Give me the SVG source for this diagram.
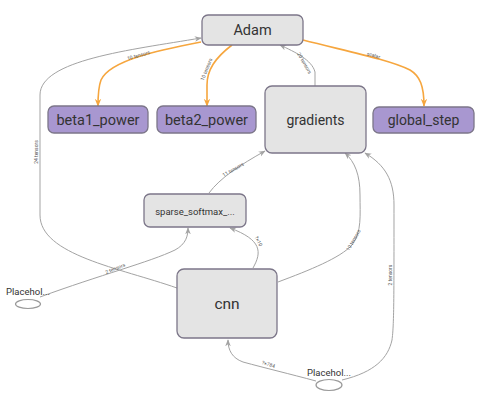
<svg xmlns="http://www.w3.org/2000/svg" width="486" height="405" viewBox="0 0 486 405">
<style>
.n{fill:#e4e4e4;stroke:#7c7689;stroke-width:1.3}
.p{fill:#a897d0;stroke:#7c7689;stroke-width:1.3}
.t{font-family:Roboto,"Liberation Sans",sans-serif;fill:#333;text-anchor:middle}
.e{fill:none;stroke:#a3a3a3;stroke-width:1}
.o{fill:none;stroke:#f6a63e;stroke-width:1.6}
.l{font-family:Roboto,"Liberation Sans",sans-serif;font-size:5px;fill:#555;text-anchor:middle}
.ph{fill:#fff;stroke:#999;stroke-width:1.2}
</style>
<defs>
<marker id="ag" viewBox="0 0 10 10" refX="9" refY="5" markerWidth="7" markerHeight="7" orient="auto" markerUnits="userSpaceOnUse"><path d="M0,1 L10,5 L0,9 L3,5 Z" fill="#a3a3a3"/></marker>
<marker id="ao" viewBox="0 0 10 10" refX="9" refY="5" markerWidth="8" markerHeight="8" orient="auto" markerUnits="userSpaceOnUse"><path d="M0,1 L10,5 L0,9 L3,5 Z" fill="#f6a63e"/></marker>
</defs>
<g id="connectors">
<path class="e" marker-end="url(#ag)" d="M177,288 C120,268 40,255 40,215 L40,95 C40,60 130,50 201,38"/>
<text class="l" transform="translate(38,152) rotate(-90)">24 tensors</text>
<path class="e" marker-end="url(#ag)" d="M40,297 C100,275 150,262 175,250 C186,244 188,236 188,228"/>
<text class="l" transform="translate(116,270) rotate(-22)">2 tensors</text>
<path class="e" marker-end="url(#ag)" d="M253,268 C262,252 262,240 230,228"/>
<text class="l" transform="translate(257,242) rotate(62)">?×10</text>
<path class="e" marker-end="url(#ag)" d="M209,193 C220,178 240,165 265,151"/>
<text class="l" transform="translate(234,171) rotate(-30)">11 tensors</text>
<path class="e" marker-end="url(#ag)" d="M278,282 C310,270 340,258 352,245 C362,232 360,215 360,195 C360,175 355,162 345,153"/>
<text class="l" transform="translate(355,241) rotate(-60)">10 tensors</text>
<path class="e" marker-end="url(#ag)" d="M342,380 C375,372 388,358 392,340 C394,325 394,300 394,205 C394,180 385,165 365,153"/>
<text class="l" transform="translate(392,275) rotate(-90)">2 tensors</text>
<path class="e" marker-end="url(#ag)" d="M316,381 C290,374 265,368 243,362 C232,358 228,350 228,340"/>
<text class="l" transform="translate(268,366) rotate(17)">?×784</text>
<path class="e" marker-end="url(#ag)" d="M315,86 L315,72 C312,60 295,52 280,45"/>
<text class="l" transform="translate(303,64) rotate(60)">20 tensors</text>
<path class="o" marker-end="url(#ao)" d="M201,42 C160,50 110,60 101,80 C98,88 98,96 98,106"/>
<text class="l" transform="translate(139,57) rotate(-16)">10 tensors</text>
<path class="o" marker-end="url(#ao)" d="M232,45 C215,58 207,70 207,85 L207,106"/>
<text class="l" transform="translate(208,70) rotate(-68)">10 tensors</text>
<path class="o" marker-end="url(#ao)" d="M303,40 C350,52 390,60 410,70 C420,76 424,86 424,106"/>
<text class="l" transform="translate(373,57) rotate(16)">scalar</text>
</g>
<g id="Adam"><rect class="n" x="202" y="15" width="101" height="30" rx="6"/><text class="t" x="252.5" y="35" font-size="14.5">Adam</text></g>
<g id="beta1_power"><rect class="p" x="48" y="106" width="100" height="27" rx="6"/><text class="t" x="98" y="124.5" font-size="14.5">beta1_power</text></g>
<g id="beta2_power"><rect class="p" x="157" y="106" width="99" height="27" rx="6"/><text class="t" x="206.5" y="124.5" font-size="14.5">beta2_power</text></g>
<g id="gradients"><rect class="n" x="265" y="86" width="101" height="67" rx="7"/><text class="t" x="315.5" y="124.5" font-size="14">gradients</text></g>
<g id="global_step"><rect class="p" x="373" y="107" width="101" height="26" rx="6"/><text class="t" x="423.5" y="125" font-size="14">global_step</text></g>
<g id="sparse_softmax"><rect class="n" x="144" y="194" width="102" height="33" rx="6"/><text class="t" x="195" y="214.5" font-size="9.5">sparse_softmax_...</text></g>
<g id="cnn"><rect class="n" x="177" y="269" width="100" height="69" rx="7"/><text class="t" x="227" y="309" font-size="15.5">cnn</text></g>
<g id="Placeholder_1"><ellipse class="ph" cx="28" cy="304" rx="12.5" ry="4.5"/><text class="t" x="28" y="295" font-size="9.5">Placehol...</text></g>
<g id="Placeholder_2"><ellipse class="ph" cx="329" cy="385" rx="13" ry="5.5"/><text class="t" x="329" y="376" font-size="9.5">Placehol...</text></g>
</svg>
